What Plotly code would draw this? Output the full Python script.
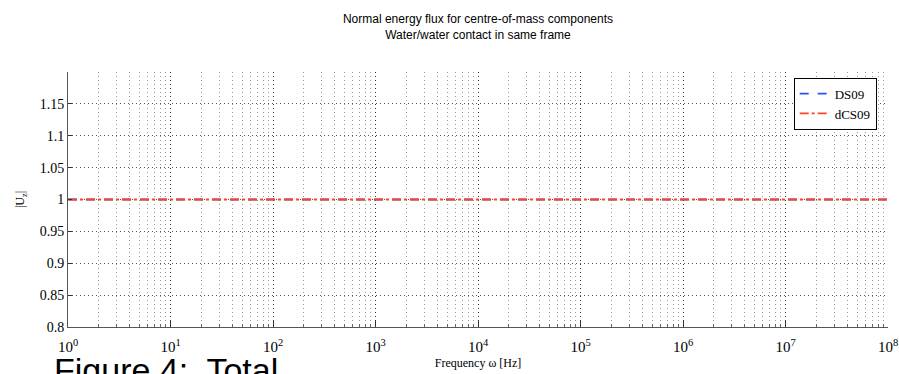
import plotly.graph_objects as go

# ---- data ----
freq = [1, 2, 3, 5, 8, 10, 15, 20, 30, 45, 60, 80, 100, 200, 500, 1e3, 2e3, 5e3,
        1e4, 2e4, 5e4, 1e5, 2e5, 5e5, 1e6, 2e6, 5e6, 7e6, 1e7, 2e7, 5e7, 1e8]
ds09 = [1.0, 1.0, 1.0, 1.0, 1.0, 1.0006, 1.0007, 1.0007, 1.0007, 1.0006, 1.0002, 1.0, 1.0,
        1.0, 1.0, 1.0, 1.0, 1.0, 1.0005, 1.0006, 1.0007, 1.0007, 1.0007, 1.0007,
        1.0007, 1.0006, 1.0005, 1.0, 1.0, 1.0, 1.0, 1.0]
dcs09 = [1.0, 1.0, 1.0, 1.0, 1.0, 1.0006, 1.0007, 1.0007, 1.0007, 1.0006, 1.0002, 1.0, 1.0,
         1.0, 1.0, 1.0, 1.0, 1.0, 1.0005, 1.0006, 1.0007, 1.0007, 1.0007, 1.0007,
         1.0007, 1.0006, 1.0005, 1.0, 1.0, 1.0, 1.0, 1.0]
series_names = ["DS09", "dCS09"]
x_major = [10 ** k for k in range(0, 9)]
x_major_text = ["10<sup>%d</sup>" % k for k in range(0, 9)]
x_minor = [m * 10 ** k for k in range(0, 8) for m in range(2, 10)]
y_ticks = [0.8, 0.85, 0.9, 0.95, 1.0, 1.05, 1.1, 1.15]
y_text = ["0.8", "0.85", "0.9", "0.95", "1", "1.05", "1.1", "1.15"]

serif = "Liberation Serif, Times New Roman, serif"
sans = "Liberation Sans, Arial, sans-serif"
dotted = "1px,3px"

fig = go.Figure()

fig.add_annotation(text="Figure 4:  Total",
                   xref="paper", yref="paper", x=-0.02, xanchor="left",
                   y=-0.088, yanchor="top", showarrow=False,
                   font=dict(family=sans, size=34, color="black"))

fig.add_trace(go.Scatter(x=freq, y=ds09, mode="lines", name=series_names[0],
                         line=dict(color="#2f4ff5", width=1.8, dash="dash")))
fig.add_trace(go.Scatter(x=freq, y=dcs09, mode="lines", name=series_names[1],
                         line=dict(color="#ff4422", width=1.8, dash="dashdot")))

fig.update_layout(
    width=899, height=374,
    margin=dict(l=68, r=11, t=72, b=47),
    paper_bgcolor="white", plot_bgcolor="white",
    title=dict(text="Normal energy flux for centre-of-mass components<br>Water/water contact in same frame",
               x=0.5317, xanchor="center", y=1 - 23 / 374, yanchor="middle",
               font=dict(family=sans, size=12, color="black")),
    legend=dict(x=0.885, xanchor="left", y=0.978, yanchor="top",
                bgcolor="white", bordercolor="black", borderwidth=1,
                font=dict(family=serif, size=13, color="black"),
                itemwidth=30, tracegroupgap=0),
    showlegend=True,
)

fig.update_xaxes(
    type="log", range=[0, 8], automargin=False,
    tickmode="array", tickvals=x_major, ticktext=x_major_text,
    ticks="inside", ticklen=6, tickcolor="#333",
    showline=True, linecolor="#555", linewidth=1, mirror=False,
    showgrid=True, gridcolor="#333", griddash=dotted, gridwidth=1,
    tickfont=dict(family=serif, size=15, color="black"),
    ticklabelstandoff=6,
    zeroline=False,
    minor=dict(tickmode="array", tickvals=x_minor, ticks="inside", ticklen=3,
               tickcolor="#666", showgrid=True, gridcolor="#999", griddash=dotted, gridwidth=1),
    title=dict(text="Frequency \u03c9 [Hz]", standoff=4,
               font=dict(family=serif, size=12, color="black")),
)
fig.update_yaxes(
    range=[0.8, 1.2], automargin=False,
    tickmode="array", tickvals=y_ticks, ticktext=y_text,
    ticks="inside", ticklen=4, tickcolor="#333",
    showline=True, linecolor="#555", linewidth=1,
    showgrid=True, gridcolor="#555", griddash=dotted, gridwidth=1,
    tickfont=dict(family=serif, size=14, color="black"),
    zeroline=False,
    title=dict(text="|U<sub>z</sub>|", standoff=12,
               font=dict(family=serif, size=12, color="black")),
)

fig.write_html("out.html")
